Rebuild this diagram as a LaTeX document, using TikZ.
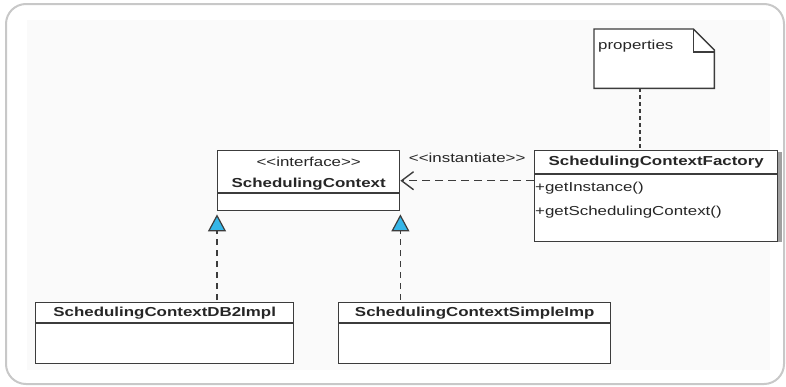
\documentclass[tikz,border=0pt]{standalone}
\usepackage{fontspec}
\setmainfont{Liberation Sans}[FakeStretch=1.3]
\usetikzlibrary{arrows.meta,calc}
\definecolor{umlline}{HTML}{3C3C3C}
\definecolor{realblue}{HTML}{35B6E8}
\definecolor{framegray}{HTML}{C8C8C8}
\definecolor{shadowgray}{HTML}{A0A0A0}
% guillemet-free stereotype brackets
\newcommand{\stlt}{\mbox{\textless}\mbox{\textless}}
\newcommand{\stgt}{\mbox{\textgreater}\mbox{\textgreater}}
\tikzset{
  umlbox/.style={draw=umlline, line width=1.4pt, fill=white, inner sep=0pt, anchor=north west},
  umlsep/.style={draw=umlline, line width=1.4pt},
  lbl/.style={text=black!85, inner sep=0pt},
  title/.style={lbl, font=\fontsize{13}{15}\selectfont\bfseries},
  member/.style={lbl, font=\fontsize{13}{15}\selectfont, anchor=west},
  realize/.style={draw=umlline, line width=1.4pt, dash pattern=on 6pt off 5pt,
    -{Triangle[length=17pt,width=18pt,fill=realblue,line width=1.2pt]}},
  depend/.style={draw=umlline, line width=1.4pt, dash pattern=on 8pt off 5pt,
    -{Straight Barb[length=12pt,width=18pt,line width=1.4pt]}},
  notelink/.style={draw=umlline, line width=1.6pt, dash pattern=on 4pt off 3pt}
}
\begin{document}
\begin{tikzpicture}[x=1pt, y=-1pt, font=\fontsize{13}{15}\selectfont]
\useasboundingbox (0,0) rectangle (786,386);
% outer frame and panel
\draw[framegray, line width=2pt, rounded corners=20pt] (6,4) rectangle (784,384);
\fill[black!2] (27,20) rectangle (770,370);

% interface SchedulingContext
\node[umlbox, minimum width=182pt, minimum height=60pt] (iface) at (217,150) {};
\draw[umlsep] ($(iface.north west)+(0,43)$) -- ($(iface.north east)+(0,43)$);
\node[lbl] (ifst) at ($(iface.north)+(0,12)$) {\stlt interface\stgt};
\node[title] (ifname) at ($(iface.north)+(0,34)$) {SchedulingContext};

% factory
\fill[shadowgray] (778,152) rectangle (782,242);
\node[umlbox, minimum width=243pt, minimum height=91pt] (fac) at (534,150) {};
\draw[umlsep] ($(fac.north west)+(0,24)$) -- ($(fac.north east)+(0,24)$);
\node[title] (facname) at ($(fac.north)+(0,12)$) {SchedulingContextFactory};
\node[member] (m1) at ($(fac.north west)+(1,38)$) {+getInstance()};
\node[member] (m2) at ($(fac.north west)+(1,62)$) {+getSchedulingContext()};

% note
\node[inner sep=0pt, anchor=north west, minimum width=120pt, minimum height=59pt] (note) at (594,29) {};
\draw[umlline, line width=1.4pt, fill=white]
  (note.north west) -- ($(note.north east)+(-21,0)$) -- ($(note.north east)+(0,21)$)
  -- (note.south east) -- (note.south west) -- cycle;
\draw[umlline, line width=1.4pt]
  ($(note.north east)+(-21,0)$) -- ($(note.north east)+(-21,23)$) -- ($(note.north east)+(0,23)$);
\node[member] (notetxt) at ($(note.north west)+(4,17)$) {properties};

% implementations
\node[umlbox, minimum width=258pt, minimum height=61pt] (db2) at (35,302) {};
\draw[umlsep] ($(db2.north west)+(0,21)$) -- ($(db2.north east)+(0,21)$);
\node[title] (db2name) at ($(db2.north)+(0,11)$) {SchedulingContextDB2Impl};

\node[umlbox, minimum width=272pt, minimum height=61pt] (simple) at (338,302) {};
\draw[umlsep] ($(simple.north west)+(0,21)$) -- ($(simple.north east)+(0,21)$);
\node[title] (simplename) at ($(simple.north)+(0,11)$) {SchedulingContextSimpleImp};

% connectors
\coordinate (rl) at ($(iface.south west)+(0,3)$);
\coordinate (rr) at ($(iface.south east)+(0,3)$);
\draw[realize] ($(rl |- db2.north)+(0,-2)$) -- (rl);
\draw[realize] ($(rr |- simple.north)+(0,-2)$) -- (rr);
\draw[depend] (fac.west |- iface.east) -- (iface.east);
\node[lbl] (inst) at ($(iface.north east)!0.5!(fac.north west)+(0,8)$) {\stlt instantiate\stgt};
\coordinate (nb) at ($(note.south west)+(46,0)$);
\draw[notelink] (nb) -- (nb |- fac.north);
\end{tikzpicture}
\end{document}
